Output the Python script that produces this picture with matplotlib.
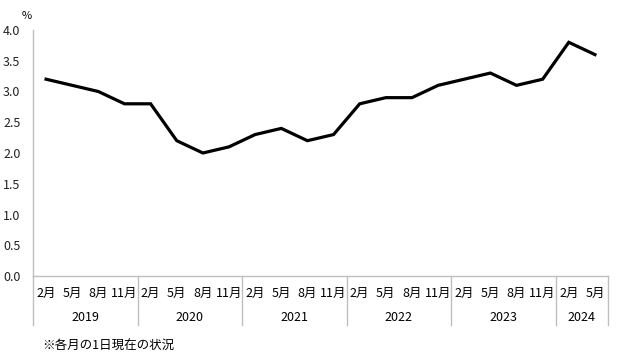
import matplotlib.pyplot as plt
import matplotlib.transforms as mtransforms

plt.rcParams['font.family'] = ['Noto Sans CJK JP', 'DejaVu Sans']

years = ['2019', '2020', '2021', '2022', '2023', '2024']
months_per_year = [4, 4, 4, 4, 4, 2]
month_labels = ['2月', '5月', '8月', '11月']
rate = [3.2, 3.1, 3.0, 2.8,
        2.8, 2.2, 2.0, 2.1,
        2.3, 2.4, 2.2, 2.3,
        2.8, 2.9, 2.9, 3.1,
        3.2, 3.3, 3.1, 3.2,
        3.8, 3.6]

fig = plt.figure(figsize=(6.22, 3.6), dpi=100)
ax = fig.add_axes([33 / 622, 1 - 276 / 360, 575 / 622, 246 / 360])

x = list(range(len(rate)))
ax.plot(x, rate, color='black', lw=2.3, solid_joinstyle='miter')

ax.set_xlim(-0.5, len(rate) - 0.5)
ax.set_ylim(0, 4.0)
ax.set_yticks([i * 0.5 for i in range(9)])
ax.set_yticklabels([f'{i * 0.5:.1f}' for i in range(9)], fontsize=9, color='#222222')
ax.tick_params(axis='y', length=0, pad=9)
ax.set_xticks([])

for s in ['top', 'right']:
    ax.spines[s].set_visible(False)
for s in ['left', 'bottom']:
    ax.spines[s].set_color('#bfbfbf')
    ax.spines[s].set_linewidth(1)

fig.text(27 / 622, 1 - 16 / 360, '%', fontsize=8, ha='center', va='center')

trans = mtransforms.blended_transform_factory(ax.transData, ax.transAxes)
pos = 0
ax.plot([-0.5, -0.5], [0, -0.2], transform=trans, color='#bfbfbf', lw=1, clip_on=False)
for yr, n in zip(years, months_per_year):
    for k in range(n):
        ax.text(pos + k, -0.072, month_labels[k], transform=trans, ha='center', va='center', fontsize=9)
    ax.text(pos + (n - 1) / 2, -0.168, yr, transform=trans, ha='center', va='center', fontsize=9)
    pos += n
    ax.plot([pos - 0.5, pos - 0.5], [0, -0.2], transform=trans, color='#bfbfbf', lw=1, clip_on=False)

fig.text(42 / 622, 1 - 346 / 360, '※各月の1日現在の状況', fontsize=9, ha='left', va='center')

fig.savefig('out.png', dpi=100)
